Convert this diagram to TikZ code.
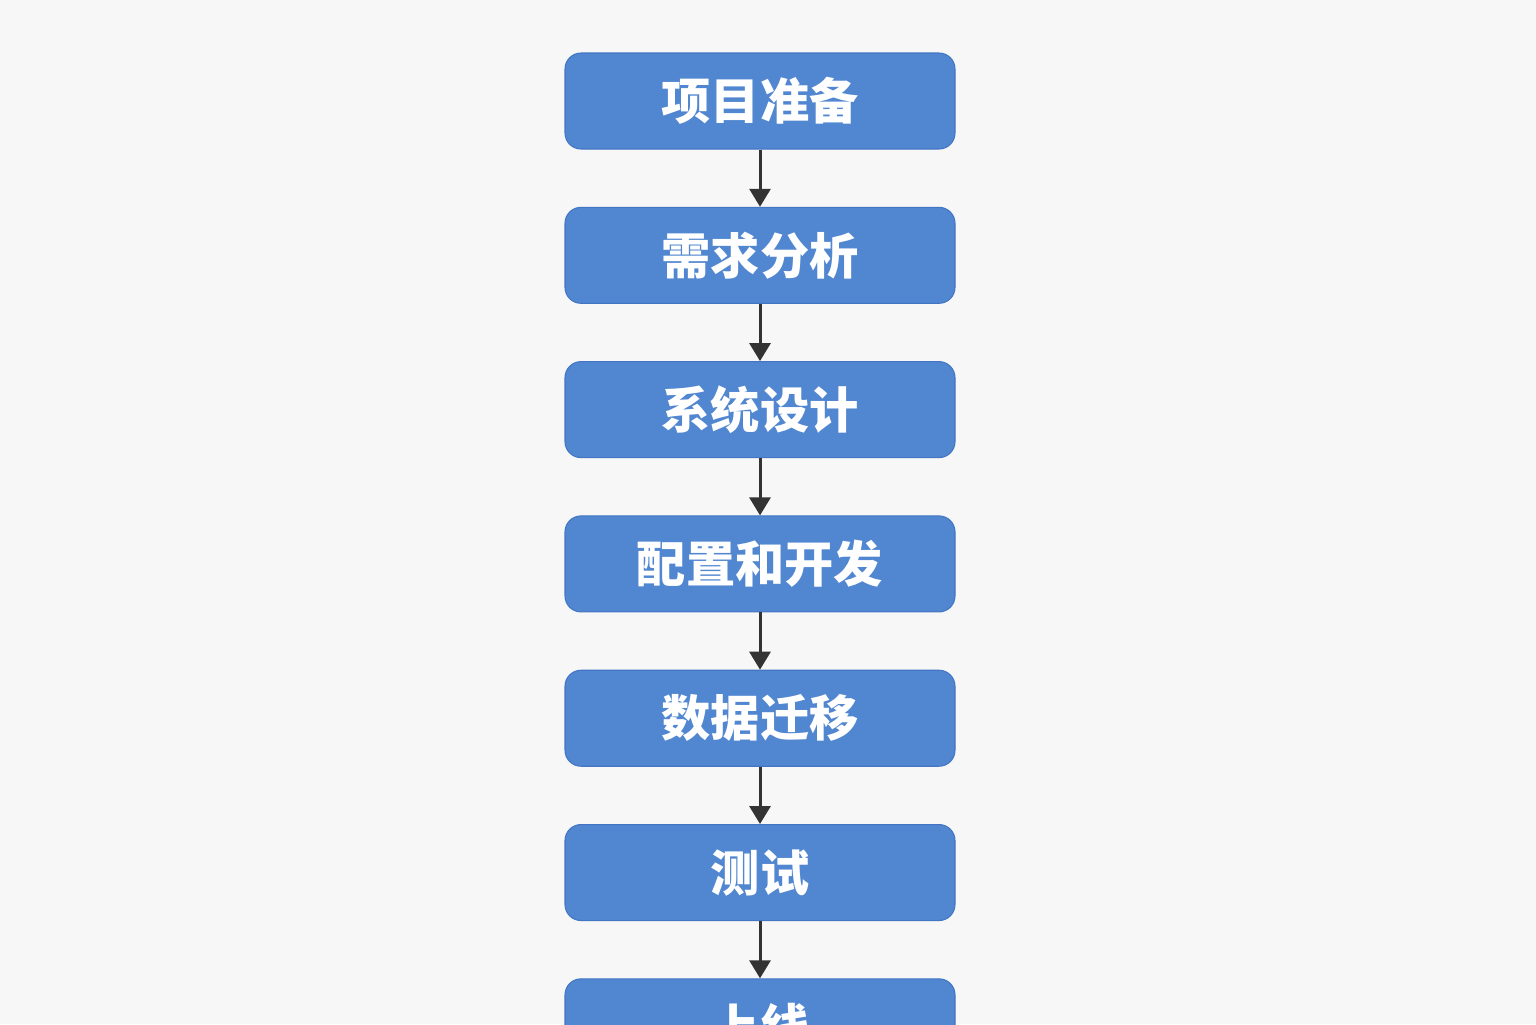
\documentclass[tikz,border=0pt]{standalone}
\usepackage{fontspec}
\newfontfamily\cjk{Noto Sans CJK SC}
\usetikzlibrary{arrows.meta,positioning}
\definecolor{stepblue}{RGB}{81,134,208}
\definecolor{stepedge}{RGB}{66,118,196}
\definecolor{arrowgray}{RGB}{51,51,51}
\definecolor{pagebg}{RGB}{247,247,247}
\tikzset{
  box/.style = {rounded corners=0.32cm, draw=stepedge, line width=0.6pt,
                fill=stepblue, minimum width=7.8cm, minimum height=1.92cm,
                inner sep=0pt, text=white, font=\cjk\bfseries\fontsize{28}{30}\selectfont},
  ar/.style  = {-{Triangle[length=0.36cm, width=0.42cm]}, line width=0.06cm,
                draw=arrowgray},
}

\begin{document}
\begin{tikzpicture}
    % fixed page: 1536 x 1024 px at 0.02cm per px
    \useasboundingbox (0,0) rectangle (30.72,-20.48);
    \fill[pagebg] (0,0) rectangle (30.72,-20.48);
    \clip (0,0) rectangle (30.72,-20.48);

    % the steps, top to bottom
    \node[box] (prep) at (15.2,-2.02) {项目准备};
    \node[box, below=1.145cm of prep]   (req)    {需求分析};
    \node[box, below=1.145cm of req]    (design) {系统设计};
    \node[box, below=1.145cm of design] (dev)    {配置和开发};
    \node[box, below=1.145cm of dev]    (migr)   {数据迁移};
    \node[box, below=1.145cm of migr]   (test)   {测试};
    \node[box, below=1.145cm of test]   (golive) {上线};

    \foreach \a/\b in {prep/req, req/design, design/dev, dev/migr,
                       migr/test, test/golive}{
      \draw[ar] (\a.south) -- (\b.north);
    }
\end{tikzpicture}
\end{document}
